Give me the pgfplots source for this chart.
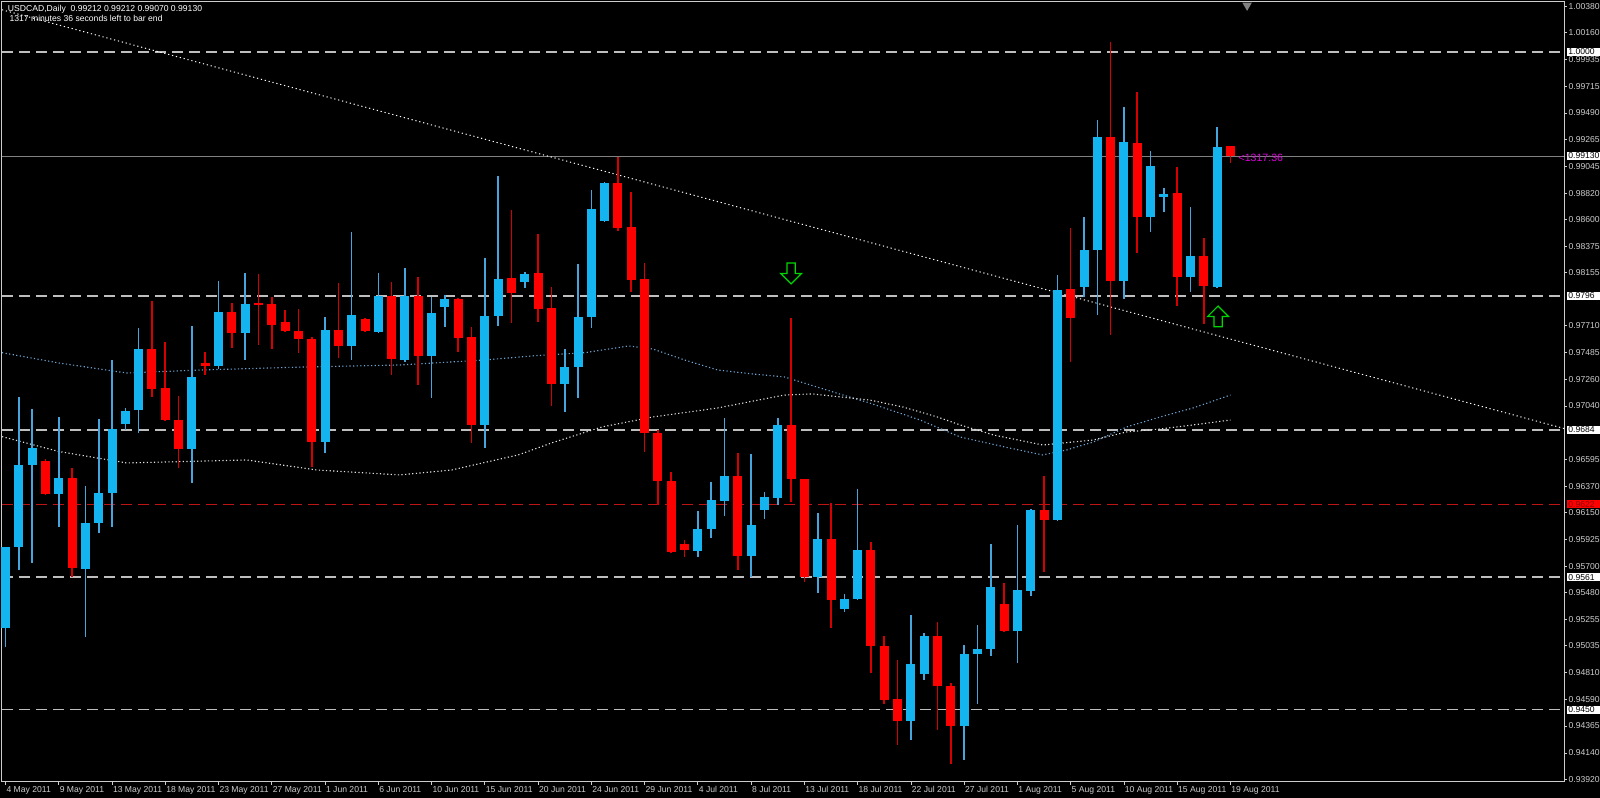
\documentclass[border=0pt]{standalone}
\usepackage{fontspec}
\setmainfont{Liberation Sans}
\usepackage{pgfplots}
\usepackage{pgfplotstable}
\pgfplotsset{compat=1.18}

\definecolor{upc}{RGB}{20,180,240}
\definecolor{upw}{RGB}{70,165,220}
\definecolor{dnc}{RGB}{255,0,0}
\definecolor{dnw}{RGB}{215,0,0}
\definecolor{lvl}{RGB}{190,190,190}
\definecolor{lvlred}{RGB}{190,20,20}
\definecolor{axc}{RGB}{205,205,205}
\definecolor{mablue}{RGB}{110,165,210}
\definecolor{mawhite}{RGB}{225,225,225}
\definecolor{pinkc}{RGB}{220,0,220}
\definecolor{arrowg}{RGB}{0,215,0}

\pgfdeclareplotmark{dnarrow}{%
  \pgfpathmoveto{\pgfqpoint{-0.4\pgfplotmarksize}{\pgfplotmarksize}}%
  \pgfpathlineto{\pgfqpoint{0.4\pgfplotmarksize}{\pgfplotmarksize}}%
  \pgfpathlineto{\pgfqpoint{0.4\pgfplotmarksize}{0pt}}%
  \pgfpathlineto{\pgfqpoint{\pgfplotmarksize}{0pt}}%
  \pgfpathlineto{\pgfqpoint{0pt}{-\pgfplotmarksize}}%
  \pgfpathlineto{\pgfqpoint{-\pgfplotmarksize}{0pt}}%
  \pgfpathlineto{\pgfqpoint{-0.4\pgfplotmarksize}{0pt}}%
  \pgfpathclose
  \pgfusepathqfillstroke}
\pgfdeclareplotmark{uparrow}{%
  \pgfpathmoveto{\pgfqpoint{-0.4\pgfplotmarksize}{-\pgfplotmarksize}}%
  \pgfpathlineto{\pgfqpoint{0.4\pgfplotmarksize}{-\pgfplotmarksize}}%
  \pgfpathlineto{\pgfqpoint{0.4\pgfplotmarksize}{0pt}}%
  \pgfpathlineto{\pgfqpoint{\pgfplotmarksize}{0pt}}%
  \pgfpathlineto{\pgfqpoint{0pt}{\pgfplotmarksize}}%
  \pgfpathlineto{\pgfqpoint{-\pgfplotmarksize}{0pt}}%
  \pgfpathlineto{\pgfqpoint{-0.4\pgfplotmarksize}{0pt}}%
  \pgfpathclose
  \pgfusepathqfillstroke}

\pgfplotstableread{
i o h l c
0 0.95182 0.95864 0.95028 0.95864
1 0.95864 0.97118 0.95669 0.96547
2 0.96547 0.97015 0.95725 0.96686
4 0.96305 0.96946 0.96031 0.96436
6 0.95675 0.96371 0.95112 0.96065
7 0.96065 0.96932 0.95976 0.96310
8 0.96310 0.97425 0.96031 0.96845
9 0.96887 0.97021 0.96840 0.96999
10 0.97004 0.97690 0.96817 0.97517
14 0.96681 0.97712 0.96394 0.97286
16 0.97375 0.98085 0.97347 0.97829
18 0.97648 0.98150 0.97425 0.97893
24 0.96742 0.97787 0.96650 0.97681
26 0.97542 0.98495 0.97425 0.97801
28 0.97662 0.98155 0.97648 0.97960
30 0.97425 0.98191 0.97411 0.97960
32 0.97458 0.97954 0.97104 0.97815
33 0.97865 0.97968 0.97698 0.97935
36 0.96881 0.98280 0.96686 0.97796
37 0.97796 0.98966 0.97709 0.98108
39 0.98080 0.98163 0.98024 0.98144
42 0.97224 0.97514 0.96987 0.97369
43 0.97369 0.98227 0.97104 0.97787
44 0.97787 0.98846 0.97690 0.98685
45 0.98590 0.98916 0.98581 0.98908
52 0.95828 0.96165 0.95781 0.96009
53 0.96012 0.96408 0.95940 0.96255
54 0.96249 0.96937 0.96121 0.96458
56 0.95786 0.96639 0.95608 0.96046
57 0.96171 0.96324 0.96101 0.96277
58 0.96274 0.96937 0.96213 0.96882
61 0.95608 0.96149 0.95474 0.95926
63 0.95340 0.95474 0.95321 0.95424
64 0.95424 0.96344 0.95418 0.95836
68 0.94407 0.95293 0.94248 0.94883
69 0.94800 0.95140 0.94755 0.95117
72 0.94365 0.95042 0.94081 0.94967
73 0.94967 0.95209 0.94554 0.95014
74 0.95009 0.95887 0.94953 0.95530
76 0.95162 0.96045 0.94889 0.95502
77 0.95496 0.96175 0.95455 0.96171
79 0.96087 0.98135 0.96080 0.98010
81 0.98038 0.98623 0.97954 0.98344
82 0.98344 0.99431 0.97801 0.99292
84 0.98085 0.99537 0.97932 0.99245
86 0.98623 0.99172 0.98498 0.99050
87 0.98785 0.98860 0.98665 0.98818
89 0.98116 0.98707 0.97996 0.98294
91 0.98038 0.99370 0.98024 0.99208
}\upbars

\pgfplotstableread{
i o h l c
3 0.96583 0.96594 0.96296 0.96305
5 0.96436 0.96519 0.95613 0.95683
11 0.97517 0.97918 0.97118 0.97182
12 0.97188 0.97578 0.96915 0.96923
13 0.96923 0.97127 0.96519 0.96681
15 0.97397 0.97489 0.97300 0.97378
17 0.97829 0.97899 0.97522 0.97648
19 0.97904 0.98141 0.97550 0.97890
20 0.97893 0.97954 0.97514 0.97718
21 0.97740 0.97843 0.97656 0.97667
22 0.97667 0.97851 0.97481 0.97598
23 0.97598 0.97620 0.96533 0.96737
25 0.97681 0.98074 0.97439 0.97542
27 0.97765 0.97776 0.97660 0.97667
29 0.97960 0.98074 0.97300 0.97430
31 0.97960 0.98122 0.97216 0.97458
34 0.97935 0.97940 0.97495 0.97606
35 0.97614 0.97704 0.96728 0.96881
38 0.98108 0.98679 0.97737 0.97982
40 0.98149 0.98476 0.97745 0.97851
41 0.97857 0.98038 0.97040 0.97224
46 0.98908 0.99125 0.98503 0.98526
47 0.98540 0.98827 0.97996 0.98094
48 0.98102 0.98233 0.96658 0.96817
49 0.96817 0.96845 0.96212 0.96413
50 0.96413 0.96491 0.95812 0.95817
51 0.95892 0.95920 0.95775 0.95837
55 0.96455 0.96645 0.95669 0.95786
59 0.96882 0.97773 0.96241 0.96427
60 0.96427 0.96430 0.95572 0.95608
62 0.95926 0.96227 0.95182 0.95418
65 0.95836 0.95906 0.94805 0.95034
66 0.95034 0.95120 0.94554 0.94582
67 0.94591 0.94917 0.94206 0.94407
70 0.95117 0.95237 0.94331 0.94699
71 0.94699 0.94722 0.94047 0.94365
75 0.95385 0.95558 0.95150 0.95162
78 0.96171 0.96455 0.95655 0.96087
80 0.98016 0.98531 0.97411 0.97779
83 0.99292 1.00086 0.97634 0.98085
85 0.99236 0.99668 0.98317 0.98623
88 0.98818 0.99041 0.97876 0.98116
90 0.98294 0.98442 0.97731 0.98043
92 0.99212 0.99212 0.99070 0.99130
}\dnbars

\pgfplotstableread{
x y lab
117.05 1.0000 1.0000
117.05 0.99130 0.99130
117.05 0.9796 0.9796
117.05 0.9684 0.9684
117.05 0.9561 0.9561
117.05 0.9450 0.9450
}\boxlabels

\begin{document}
\begin{tikzpicture}[font=\fontsize{2.15}{2.5}\selectfont]
\fill[black] (0,0) rectangle (400pt,199.5pt);
\begin{axis}[
  at={(0.5pt,4.1pt)}, anchor=south west, scale only axis,
  width=390.5pt, height=194.9pt,
  xmin=-0.263, xmax=117.05, ymin=0.939004, ymax=1.004178,
  clip=false,
  axis line style={axc, line width=0.25pt},
  title={USDCAD,Daily\ \ 0.99212 0.99212 0.99070 0.99130\\[-0.1pt]\hspace{0.4pt}1317 minutes 36 seconds left to bar end},
  every axis title/.style={at={(0,1)}, anchor=north west, xshift=1.3pt, yshift=-0.7pt, align=left, text=white, inner sep=0pt},
  xtick={0,4,...,92},
  xticklabels={4 May 2011,9 May 2011,13 May 2011,18 May 2011,23 May 2011,27 May 2011,1 Jun 2011,6 Jun 2011,10 Jun 2011,15 Jun 2011,20 Jun 2011,24 Jun 2011,29 Jun 2011,4 Jul 2011,8 Jul 2011,13 Jul 2011,18 Jul 2011,22 Jul 2011,27 Jul 2011,1 Aug 2011,5 Aug 2011,10 Aug 2011,15 Aug 2011,19 Aug 2011},
  ytick={1.00380,1.00160,0.99935,0.99715,0.99490,0.99265,0.99045,0.98820,0.98600,0.98375,0.98155,0.97710,0.97485,0.97260,0.97040,0.96595,0.96370,0.96150,0.95925,0.95700,0.95480,0.95255,0.95035,0.94810,0.94590,0.94365,0.94140,0.93920},
  yticklabels={1.00380,1.00160,0.99935,0.99715,0.99490,0.99265,0.99045,0.98820,0.98600,0.98375,0.98155,0.97710,0.97485,0.97260,0.97040,0.96595,0.96370,0.96150,0.95925,0.95700,0.95480,0.95255,0.95035,0.94810,0.94590,0.94365,0.94140,0.93920},
  xtick pos=bottom, ytick pos=right, yticklabel pos=right,
  tick align=outside, major tick length=0.75pt,
  tick style={axc, line width=0.2pt},
  xticklabel style={anchor=north west, text=axc, inner sep=0.2pt, xshift=-0.15pt},
  yticklabel style={anchor=west, text=axc, inner sep=0.2pt},
]
% level lines
\addplot[lvl, line width=0.3pt, dash pattern=on 2.75pt off 1.5pt] coordinates {(-0.263,1.0000) (117.05,1.0000)};
\addplot[lvl, line width=0.3pt, dash pattern=on 2.75pt off 1.5pt] coordinates {(-0.263,0.9796) (117.05,0.9796)};
\addplot[lvl, line width=0.3pt, dash pattern=on 2.75pt off 1.5pt] coordinates {(-0.263,0.9684) (117.05,0.9684)};
\addplot[lvl, line width=0.3pt, dash pattern=on 2.75pt off 1.5pt] coordinates {(-0.263,0.9561) (117.05,0.9561)};
\addplot[lvl, line width=0.3pt, dash pattern=on 2.75pt off 1.5pt] coordinates {(-0.263,0.9450) (117.05,0.9450)};
\addplot[lvlred, line width=0.3pt, dash pattern=on 2.75pt off 1.5pt] coordinates {(-0.263,0.9622) (117.05,0.9622)};
\addplot[gray, line width=0.25pt] coordinates {(-0.263,0.9913) (117.05,0.9913)};
% trend line
\addplot[white, line width=0.25pt, dash pattern=on 0.3pt off 0.7pt] coordinates {(-0.263,1.003526) (117.05,0.968523)};
% moving averages
\addplot[mablue, line width=0.28pt, dash pattern=on 0.3pt off 0.6pt] coordinates {
(-0.26,0.97486) (4,0.97400) (9.1,0.97316) (14.6,0.97341) (22,0.97365) (29.6,0.97383) (36.0,0.97425) (39.8,0.97461) (43.5,0.97486) (46.8,0.97542) (48.6,0.97517) (51.0,0.97425) (53.5,0.97341) (56.1,0.97308) (58.5,0.97283) (62.4,0.97149) (64.9,0.97065) (68.7,0.96923) (71.7,0.96781) (75.4,0.96689) (77.9,0.96631) (79.7,0.96673) (81.7,0.96739) (84.2,0.96865) (86.7,0.96948) (89.2,0.97024) (92,0.97132)};
\addplot[mawhite, line width=0.28pt, dash pattern=on 0.3pt off 0.6pt] coordinates {
(-0.26,0.96784) (4,0.96660) (9.1,0.96564) (18.1,0.96589) (23.4,0.96505) (29.6,0.96464) (33.5,0.96505) (38.5,0.96631) (41.0,0.96731) (44.8,0.96865) (48.6,0.96948) (53.5,0.97024) (58.5,0.97132) (60.6,0.97141) (64.9,0.97090) (67.4,0.97032) (70.0,0.96948) (71.7,0.96882) (74.2,0.96798) (77.9,0.96714) (81.7,0.96756) (84.2,0.96823) (86.7,0.96848) (89.2,0.96882) (92,0.96923)};
% candles: wicks
\addplot[draw=none, mark=none, forget plot, error bars/.cd, y dir=both, y explicit, error mark=none,
  error bar style={draw=upw, line width=0.4pt}]
  table[x=i, y expr={(\thisrow{h}+\thisrow{l})/2}, y error expr={(\thisrow{h}-\thisrow{l})/2}] {\upbars};
\addplot[draw=none, mark=none, forget plot, error bars/.cd, y dir=both, y explicit, error mark=none,
  error bar style={draw=dnw, line width=0.4pt}]
  table[x=i, y expr={(\thisrow{h}+\thisrow{l})/2}, y error expr={(\thisrow{h}-\thisrow{l})/2}] {\dnbars};
% candles: bodies
\addplot[draw=none, mark=none, forget plot, error bars/.cd, y dir=both, y explicit, error mark=none,
  error bar style={draw=upc, line width=2.25pt}]
  table[x=i, y expr={(\thisrow{o}+\thisrow{c})/2}, y error expr={max(abs(\thisrow{o}-\thisrow{c})/2,0.00007)}] {\upbars};
\addplot[draw=none, mark=none, forget plot, error bars/.cd, y dir=both, y explicit, error mark=none,
  error bar style={draw=dnc, line width=2.25pt}]
  table[x=i, y expr={(\thisrow{o}+\thisrow{c})/2}, y error expr={max(abs(\thisrow{o}-\thisrow{c})/2,0.00007)}] {\dnbars};
% signal arrows
\addplot[only marks, mark=dnarrow, mark size=2.6pt, mark options={draw=arrowg, fill=black, line width=0.3pt}] coordinates {(59,0.98148)};
\addplot[only marks, mark=uparrow, mark size=2.6pt, mark options={draw=arrowg, fill=black, line width=0.3pt}] coordinates {(91.07,0.97789)};
% shift marker
\addplot[only marks, mark=triangle*, mark size=1pt, mark options={rotate=180, fill=gray, draw=gray}] coordinates {(93.25,1.00390)};
% time label
\addplot[only marks, mark=none, point meta=explicit symbolic, nodes near coords,
  nodes near coords style={anchor=west, text=pinkc, inner sep=0pt, font=\fontsize{2.65}{3}\selectfont}] coordinates {(92.55,0.99112) [<1317:36]};
% boxed price labels
\addplot[only marks, mark=none, point meta=explicit symbolic, nodes near coords,
  nodes near coords style={anchor=west, fill=white, text=black, text width=7.6pt, align=left, inner xsep=0.3pt, inner ysep=0.3pt, xshift=0.6pt}]
  table[x=x, y=y, meta=lab] {\boxlabels};
\addplot[only marks, mark=none, point meta=explicit symbolic, nodes near coords,
  nodes near coords style={anchor=west, fill=red, text=red!55!black, text width=7.6pt, align=left, inner xsep=0.3pt, inner ysep=0.3pt, xshift=0.6pt}]
  coordinates {(117.05,0.9622) [0.9622]};
\end{axis}
\pgfresetboundingbox
\path (0,0) rectangle (400pt,199.5pt);
\end{tikzpicture}
\end{document}
